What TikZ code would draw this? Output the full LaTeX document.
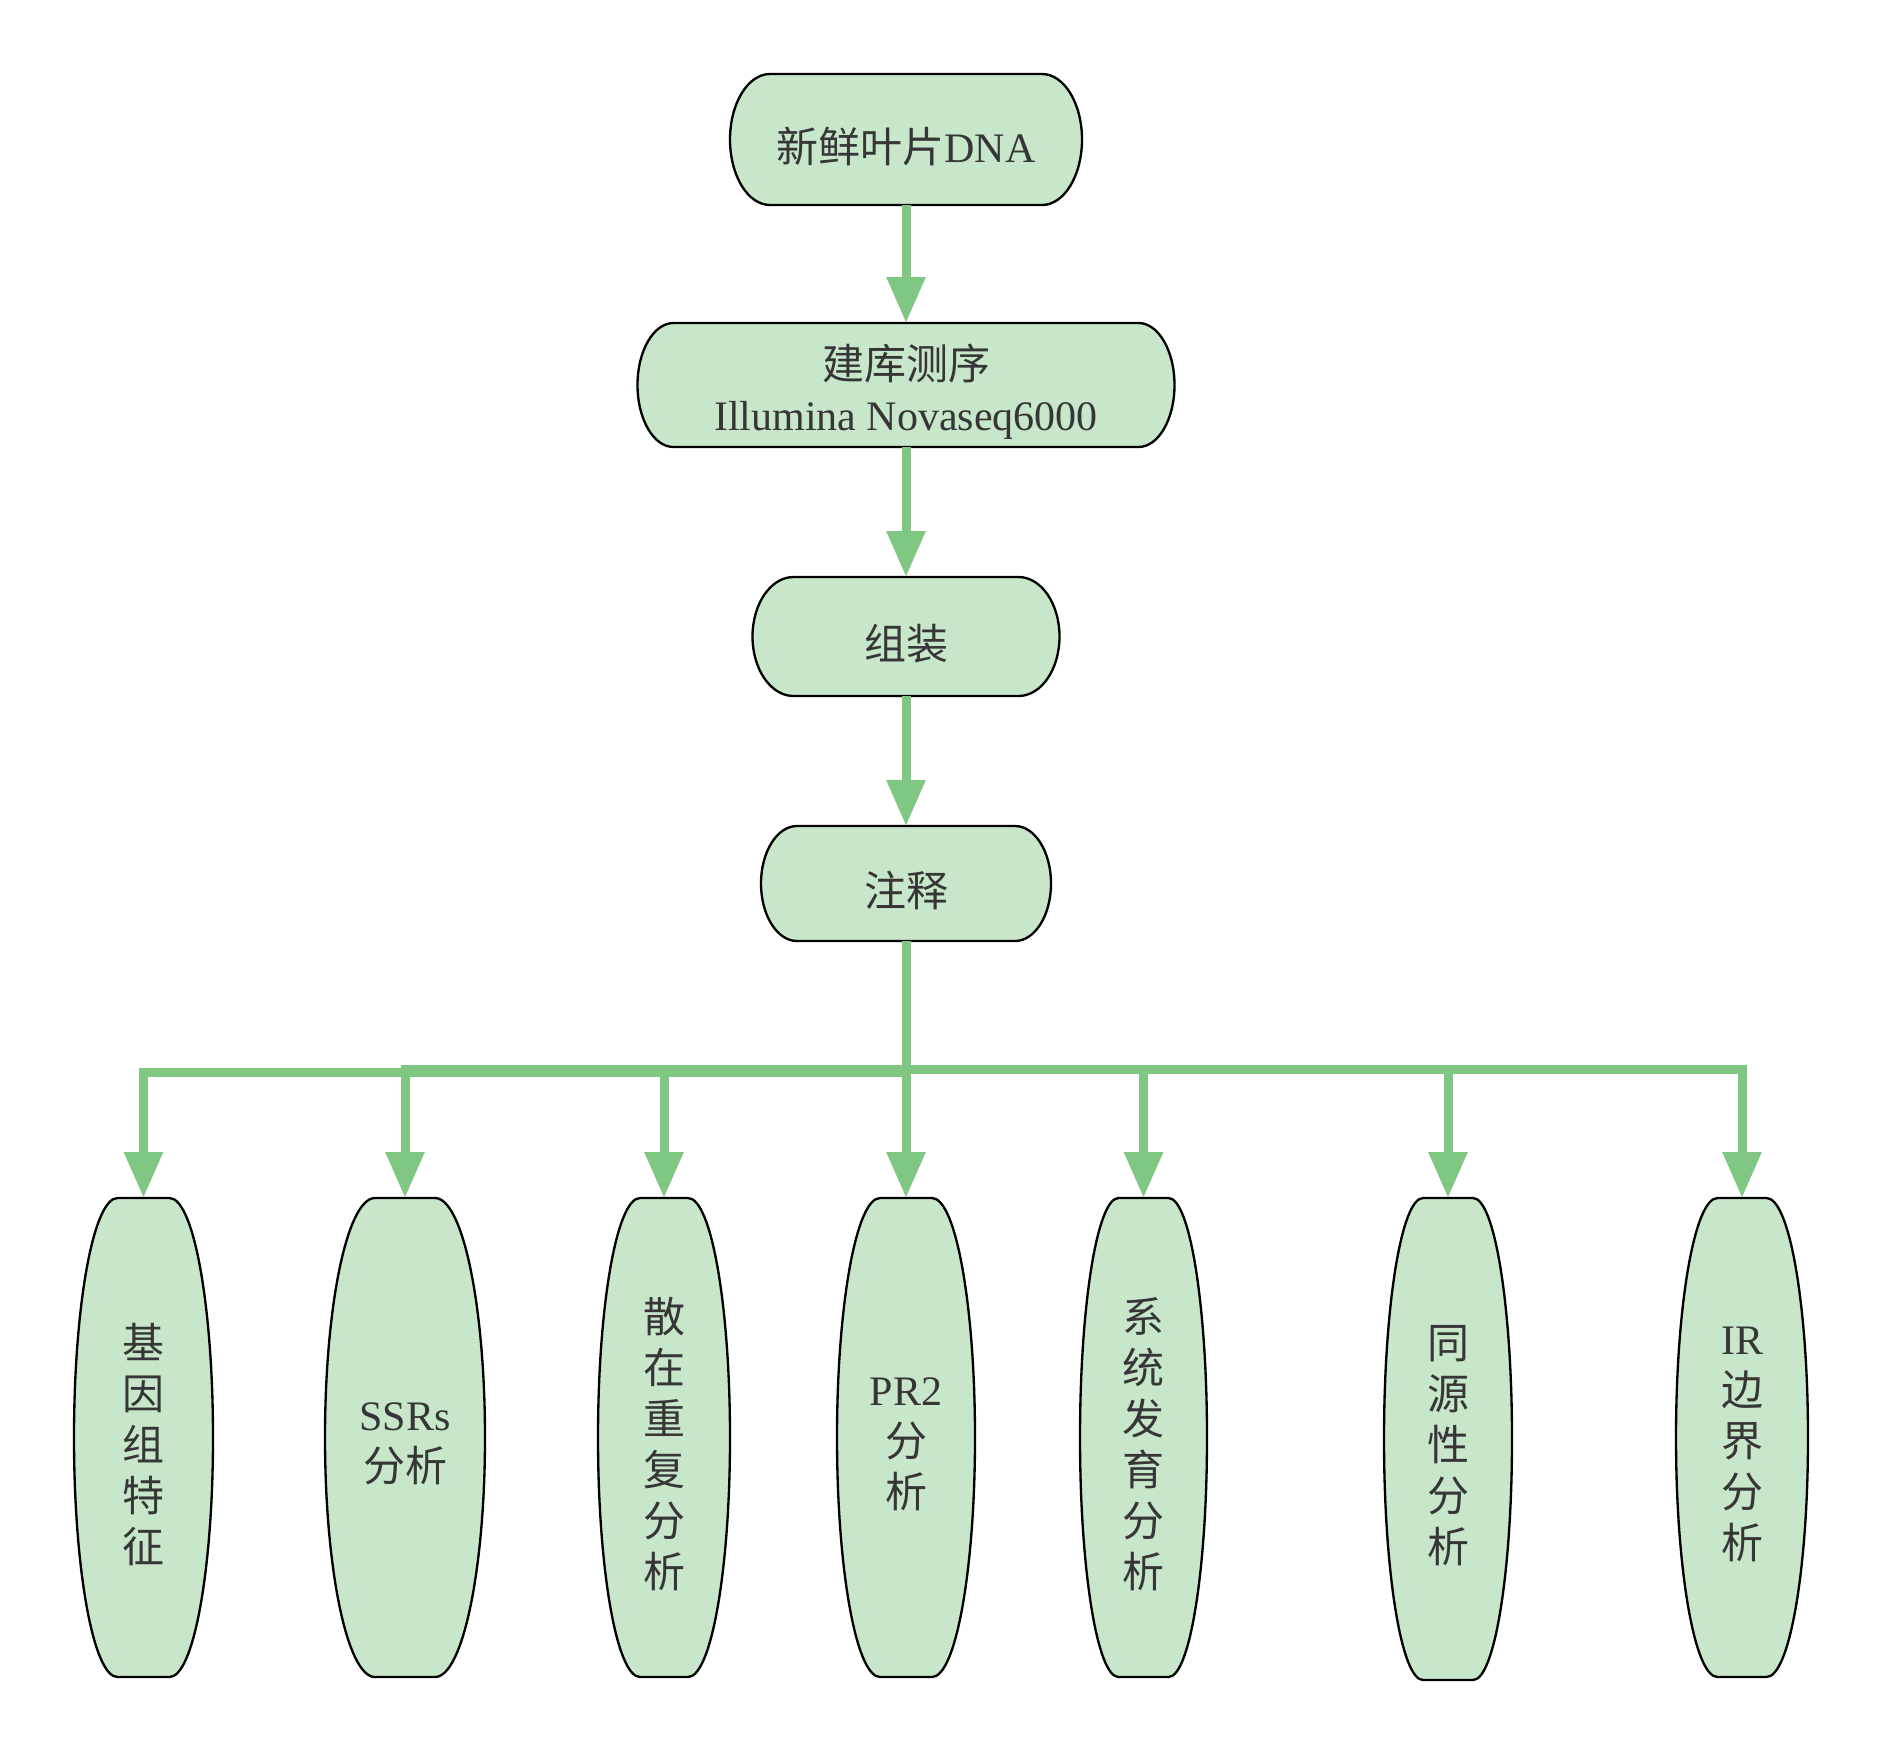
\documentclass[tikz,border=0pt]{standalone}
\usepackage{fontspec}
\setmainfont{Liberation Serif}
\newfontfamily\cjk{Noto Sans CJK SC}
\usetikzlibrary{arrows.meta,calc,backgrounds}
\definecolor{fillg}{HTML}{C8E6C9}
\definecolor{arrg}{HTML}{81C784}
\definecolor{txtc}{HTML}{363636}
\newcommand\dn[1]{\raisebox{-5pt}[\height][\depth]{#1}}
\newcommand\capsule[3]{\path[shp] ($(#1.north west)+(#2,0)$) -- ($(#1.north east)+(-#2,0)$)
  arc[start angle=90,end angle=-90,x radius=#2*0.75pt,y radius=#3*0.75pt]
  -- ($(#1.south west)+(#2,0)$)
  arc[start angle=270,end angle=90,x radius=#2*0.75pt,y radius=#3*0.75pt] -- cycle;}
\begin{document}
\begin{tikzpicture}[x=0.75pt,y=0.75pt,
  box/.style={rectangle, draw=none, inner sep=0pt, outer sep=0pt, align=center, text=txtc,
    font=\cjk\fontsize{31.5pt}{38.25pt}\selectfont},
  conn/.style={draw=arrg, line width=6.75pt, -{Triangle[width=27.75pt,length=34.5pt]}},
  shp/.style={draw=black, fill=fillg, line width=1.75pt}]
\useasboundingbox (0,0) rectangle (1883,-1753);

% main column
\node[box, minimum width=352*0.75pt, minimum height=131*0.75pt] (n1) at (906,-139.5)
  {\dn{新鲜叶片{\rmfamily DNA}}};
\node[box, minimum width=537*0.75pt, minimum height=124*0.75pt] (n2) at (906,-385)
  {\dn{建库测序}\\\dn{\rmfamily Illumina Novaseq6000}};
\node[box, minimum width=307*0.75pt, minimum height=119*0.75pt] (n3) at (906,-636.5)
  {\dn{组装}};
\node[box, minimum width=290*0.75pt, minimum height=115*0.75pt] (n4) at (906,-883.5)
  {\dn{注释}};

% bottom row
\node[box, minimum width=139*0.75pt, minimum height=479*0.75pt] (g1) at (143.5,-1437.5)
  {\dn{基}\\\dn{因}\\\dn{组}\\\dn{特}\\\dn{征}};
\node[box, minimum width=160*0.75pt, minimum height=479*0.75pt] (g2) at (405,-1437.5)
  {\dn{\rmfamily SSRs}\\\dn{分析}};
\node[box, minimum width=132*0.75pt, minimum height=479*0.75pt] (g3) at (664,-1437.5)
  {\dn{散}\\\dn{在}\\\dn{重}\\\dn{复}\\\dn{分}\\\dn{析}};
\node[box, minimum width=138*0.75pt, minimum height=479*0.75pt] (g4) at (906,-1437.5)
  {\dn{\rmfamily PR2}\\\dn{分}\\\dn{析}};
\node[box, minimum width=127*0.75pt, minimum height=479*0.75pt] (g5) at (1143.5,-1437.5)
  {\dn{系}\\\dn{统}\\\dn{发}\\\dn{育}\\\dn{分}\\\dn{析}};
\node[box, minimum width=128*0.75pt, minimum height=482*0.75pt] (g6) at (1448,-1439)
  {\dn{同}\\\dn{源}\\\dn{性}\\\dn{分}\\\dn{析}};
\node[box, minimum width=132*0.75pt, minimum height=479*0.75pt] (g7) at (1742,-1437.5)
  {\dn{\rmfamily IR}\\\dn{边}\\\dn{界}\\\dn{分}\\\dn{析}};

\begin{pgfonlayer}{background}
\capsule{n1}{40}{65.5}
\capsule{n2}{36}{62}
\capsule{n3}{41}{59.5}
\capsule{n4}{36}{57.5}
\capsule{g1}{43.5}{239.5}
\capsule{g2}{50}{239.5}
\capsule{g3}{42}{239.5}
\capsule{g4}{43}{239.5}
\capsule{g5}{38.5}{239.5}
\capsule{g6}{39}{241}
\capsule{g7}{41.5}{239.5}
\end{pgfonlayer}

% branch points
\coordinate (brA) at (906,-1072.5);
\coordinate (brB) at (906,-1069.5);

% connectors
\draw[conn] (n1.south) -- (n2.north);
\draw[conn] (n2.south) -- (n3.north);
\draw[conn] (n3.south) -- (n4.north);
\draw[conn] (n4.south) -- (brA) -| (g1.north);
\draw[conn] (n4.south) -- (brB) -| (g2.north);
\draw[conn] (n4.south) -- (brB) -| (g3.north);
\draw[conn] (n4.south) -- (g4.north);
\draw[conn] (n4.south) -- (brB) -| (g5.north);
\draw[conn] (n4.south) -- (brB) -| (g6.north);
\draw[conn] (n4.south) -- (brB) -| (g7.north);
\end{tikzpicture}
\end{document}
